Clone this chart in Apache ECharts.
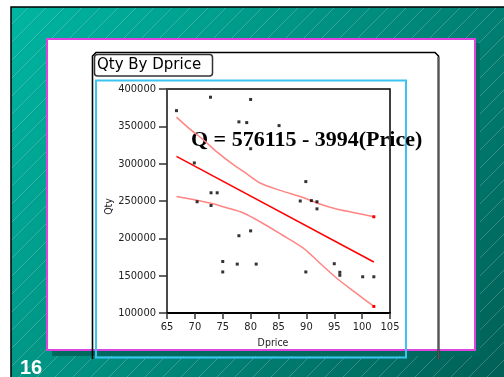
<!DOCTYPE html>
<html>
<head>
<meta charset="utf-8">
<script src="https://cdn.jsdelivr.net/npm/echarts@6/dist/echarts.min.js"></script>
<style>
  html, body { margin: 0; padding: 0; background: #ffffff; }
  #chart { width: 504px; height: 377px; }
</style>
</head>
<body>
<div id="chart"></div>
<script>
// Observed sales: discounted price vs quantity sold
const dprice = [66.7, 72.8, 80.0, 77.9, 79.3, 85.1, 80.0, 69.9, 72.9, 74.0,
                70.4, 72.9, 77.9, 80.0, 89.9, 88.9, 90.9, 91.9, 91.9, 75.0,
                75.0, 77.6, 81.0, 95.0, 89.9, 96.0, 96.0, 100.1, 102.1];
const qty = [371000, 389000, 386000, 356000, 355000, 351000, 320000, 301000, 261000, 261000,
             249000, 244000, 203500, 210000, 276000, 250000, 250500, 249000, 239500, 169000,
             155000, 165500, 165500, 166000, 155000, 154500, 150500, 148500, 148500];

// Least-squares fit stated on the chart
const intercept = 576115;
const slope = -3994;
const fitRange = [66.7, 102.1];

// Confidence band around the fit
const upperX = [66.7, 69.0, 71.5, 74.0, 76.9, 78.7, 81.7, 85.3, 89.4, 92.4, 95.4, 98.4, 102.1];
const upperQ = [362400, 347000, 332000, 315500, 298600, 289600, 274100, 264200, 254800, 246000, 239300, 234700, 228900];
const lowerX = [66.7, 69.7, 72.7, 75.7, 78.7, 81.7, 85.6, 89.45, 92.4, 95.4, 98.7, 102.1];
const lowerQ = [256100, 252000, 247300, 241000, 233900, 222200, 204800, 187000, 167000, 146900, 127900, 108800];

// Axis ticks
const xTicks = [65, 70, 75, 80, 85, 90, 95, 100, 105];
const yTicks = [100000, 150000, 200000, 250000, 300000, 350000, 400000];

const chart = echarts.init(document.getElementById('chart'), null, { renderer: 'canvas' });

// Diagonal hatch used on the slide background
function hatch() {
  const c = document.createElement('canvas');
  c.width = 18; c.height = 18;
  const g = c.getContext('2d');
  g.lineWidth = 0.8;
  g.strokeStyle = 'rgba(255,255,255,0.28)';
  for (const o of [-18, 0, 18]) {
    g.beginPath(); g.moveTo(o, 18); g.lineTo(o + 18, 0); g.stroke();
  }
  g.strokeStyle = 'rgba(0,40,35,0.12)';
  for (const o of [-18, 0, 18]) {
    g.beginPath(); g.moveTo(o + 1.2, 18); g.lineTo(o + 19.2, 0); g.stroke();
  }
  return c;
}

const fitLine = fitRange.map(p => [p, intercept + slope * p]);
const bandData = (xs, ys) => xs.map((x, i) => {
  const item = { value: [x, ys[i]] };
  if (i === xs.length - 1) {
    item.symbol = 'rect';
    item.symbolSize = 3;
    item.itemStyle = { color: '#ff0000' };
  }
  return item;
});

const tickLabel = { fontFamily: '"DejaVu Sans Condensed", "DejaVu Sans", sans-serif', fontSize: 11, color: '#222' };

chart.setOption({
  animation: false,
  backgroundColor: '#ffffff',
  graphic: [
    // slide background
    { type: 'rect', z: -10, shape: { x: 11, y: 7, width: 500, height: 380 },
      style: { fill: new echarts.graphic.LinearGradient(0, 0, 1, 1, [
        { offset: 0, color: '#00b6a2' }, { offset: 1, color: '#005e55' }]), stroke: '#000', lineWidth: 1.5 } },
    { type: 'rect', z: -9, shape: { x: 12, y: 8, width: 500, height: 380 },
      style: { fill: { image: hatch(), repeat: 'repeat' } } },
    // panel shadow and white panel
    { type: 'rect', z: -8, shape: { x: 52, y: 43, width: 428, height: 313 }, style: { fill: '#006a5f' } },
    { type: 'rect', z: -7, shape: { x: 47, y: 39, width: 428, height: 311 }, style: { fill: '#ffffff', stroke: '#dd44dd', lineWidth: 2 } },
    // report frame
    { type: 'polyline', z: -6, shape: { points: [[92.5, 359], [92.5, 56], [96, 52.5], [435, 52.5], [438.5, 56], [438.5, 359]] },
      style: { stroke: '#000', fill: null, lineWidth: 1.6 } },
    { type: 'line', z: -5, shape: { x1: 438.5, y1: 57, x2: 438.5, y2: 359 }, style: { stroke: '#555', lineWidth: 2 } },
    { type: 'rect', z: -5, shape: { x: 94.5, y: 54.5, width: 118, height: 21.5, r: 3 }, style: { fill: '#fff', stroke: '#333', lineWidth: 1.5 } },
    { type: 'text', z: -4, style: { x: 97, y: 65.5, text: 'Qty By Dprice', fill: '#000', font: '15px "DejaVu Sans", sans-serif', textVerticalAlign: 'middle' } },
    { type: 'rect', z: -5, shape: { x: 96, y: 80.5, width: 310, height: 277 }, style: { fill: null, stroke: '#3cc4f0', lineWidth: 2 } },
    // equation
    { type: 'text', z: 1, style: { x: 191, y: 140, text: 'Q = 576115 - 3994(Price)', fill: '#000', font: 'bold 22px "Liberation Serif", "Times New Roman", serif', textVerticalAlign: 'middle' } },
    // axis titles
    { type: 'text', z: 1, rotation: Math.PI / 2, x: 109, y: 206.5,
      style: { text: 'Qty', fill: '#222', font: '10.5px "DejaVu Sans Condensed", "DejaVu Sans", sans-serif', textAlign: 'center', textVerticalAlign: 'middle' } },
    { type: 'text', z: 1, style: { x: 273, y: 343, text: 'Dprice', fill: '#222', font: '10.5px "DejaVu Sans Condensed", "DejaVu Sans", sans-serif', textAlign: 'center', textVerticalAlign: 'middle' } },
    // slide number
    { type: 'text', z: 1, style: { x: 20, y: 368, text: '16', fill: '#fff', font: 'bold 20px "Liberation Sans", Arial, sans-serif', textVerticalAlign: 'middle' } }
  ],
  grid: { left: 167, top: 89, right: 114, bottom: 64, show: true, borderColor: '#000', borderWidth: 1.5, backgroundColor: 'transparent' },
  xAxis: {
    type: 'value', min: xTicks[0], max: xTicks[xTicks.length - 1], interval: 5,
    axisLine: { show: true, onZero: false, lineStyle: { color: '#000', width: 2 } },
    axisTick: { show: true, length: 6, lineStyle: { color: '#333', width: 1.5 } },
    axisLabel: Object.assign({ margin: 9, formatter: v => String(v) }, tickLabel),
    splitLine: { show: false }
  },
  yAxis: {
    type: 'value', min: yTicks[0], max: yTicks[yTicks.length - 1], interval: 50000,
    axisLine: { show: true, onZero: false, lineStyle: { color: '#4a4a4a', width: 2 } },
    axisTick: { show: true, length: 8, lineStyle: { color: '#333', width: 1.5 } },
    axisLabel: Object.assign({ margin: 11, formatter: v => String(v) }, tickLabel),
    splitLine: { show: false }
  },
  series: [
    { type: 'line', data: bandData(upperX, upperQ), showSymbol: true, symbol: 'none', smooth: 0.3,
      lineStyle: { color: '#ff8585', width: 1.5 }, z: 3 },
    { type: 'line', data: bandData(lowerX, lowerQ), showSymbol: true, symbol: 'none', smooth: 0.3,
      lineStyle: { color: '#ff8585', width: 1.5 }, z: 3 },
    { type: 'line', data: fitLine, showSymbol: false, lineStyle: { color: '#ff0000', width: 1.5 }, z: 4 },
    { type: 'scatter', data: dprice.map((p, i) => [p, qty[i]]), symbol: 'rect', symbolSize: 3,
      itemStyle: { color: '#000' }, z: 5 }
  ]
});
</script>
</body>
</html>
